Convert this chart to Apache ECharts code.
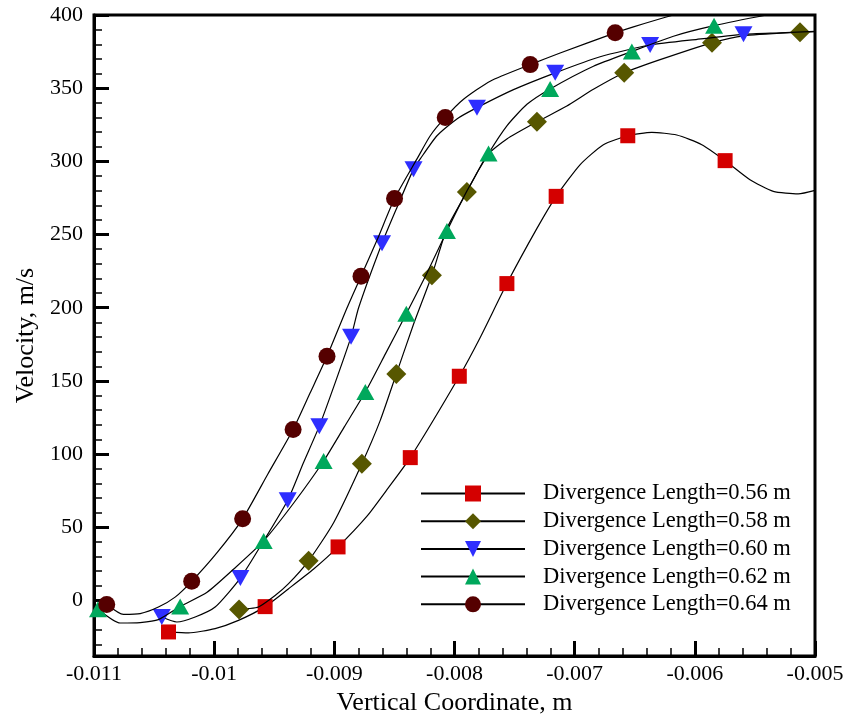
<!DOCTYPE html>
<html>
<head>
<meta charset="utf-8">
<script src="https://cdn.jsdelivr.net/npm/echarts@6/dist/echarts.min.js"></script>
<style>html,body{margin:0;padding:0;background:#fff;}#chart{width:851px;height:721px;}</style>
</head>
<body>
<div id="chart"></div>
<script>
// ---- data ----
const seriesNames = ['Divergence Length=0.56 m','Divergence Length=0.58 m','Divergence Length=0.60 m','Divergence Length=0.62 m','Divergence Length=0.64 m'];

const curve056 = [[-0.010380,-21.5],[-0.010214,-22.2],[-0.009992,-19.2],[-0.009798,-13.6],[-0.009576,-4.2],[-0.009383,7.9],[-0.009172,21.5],[-0.008969,36.6],[-0.008728,57.6],[-0.008562,75.7],[-0.008368,97.6],[-0.007960,153.2],[-0.007786,179.7],[-0.007564,216.5],[-0.007314,254.2],[-0.007154,276.1],[-0.006954,297.8],[-0.006761,311.4],[-0.006558,317.5],[-0.006358,319.8],[-0.006150,318.0],[-0.005942,311.4],[-0.005748,300.5],[-0.005541,287.5],[-0.005347,279.5],[-0.005139,277.8],[-0.005000,280.2]];
const marks056 = [[-0.010380,-21.5],[-0.009576,-4.2],[-0.008969,36.6],[-0.008368,97.6],[-0.007960,153.2],[-0.007564,216.5],[-0.007154,276.1],[-0.006558,317.5],[-0.005748,300.5]];

const curve058 = [[-0.009793,-6.1],[-0.009715,-5.6],[-0.009632,-4.5],[-0.009493,3.4],[-0.009383,11.3],[-0.009214,27.1],[-0.009006,53.1],[-0.008771,93.4],[-0.008617,123.2],[-0.008484,154.8],[-0.008341,188.7],[-0.008188,222.2],[-0.008063,254.2],[-0.007897,279.1],[-0.007730,304],[-0.007564,315.3],[-0.007314,327],[-0.007065,337.8],[-0.006844,349.2],[-0.006588,360.5],[-0.006289,369.5],[-0.005857,381],[-0.005596,385.8],[-0.005125,388.3],[-0.005000,388.7]];
const marks058 = [[-0.009793,-6.1],[-0.009214,27.1],[-0.008771,93.4],[-0.008484,154.8],[-0.008188,222.2],[-0.007897,279.1],[-0.007314,327],[-0.006588,360.5],[-0.005857,381],[-0.005125,388.3]];

const curve060 = [[-0.010436,-11.3],[-0.010311,-14.7],[-0.010158,-11.3],[-0.009992,-4.5],[-0.009782,15.3],[-0.009588,40.7],[-0.009388,68.5],[-0.009258,93.9],[-0.009125,119.1],[-0.008992,149],[-0.008861,180.1],[-0.008798,200],[-0.008603,244.1],[-0.008476,269],[-0.008341,294.7],[-0.008285,301.7],[-0.008146,317.5],[-0.007980,329],[-0.007813,336.7],[-0.007509,349],[-0.007162,360.5],[-0.006788,371.5],[-0.006372,379.5],[-0.005981,383.4],[-0.005595,386.8],[-0.005291,387.8],[-0.005000,388.8]];
const marks060 = [[-0.010436,-11.3],[-0.009782,15.3],[-0.009388,68.5],[-0.009125,119.1],[-0.008861,180.1],[-0.008603,244.1],[-0.008341,294.7],[-0.007813,336.7],[-0.007162,360.5],[-0.006372,379.5],[-0.005595,386.8]];

const curve062 = [[-0.010967,-6.0],[-0.010782,-15.4],[-0.010616,-15.1],[-0.010464,-13.1],[-0.010283,-4.1],[-0.010059,5.6],[-0.009837,21.5],[-0.009588,40.7],[-0.009338,66.6],[-0.009089,95.3],[-0.008917,118.6],[-0.008742,142.4],[-0.008576,168.3],[-0.008401,195.9],[-0.008229,223.7],[-0.008063,252.5],[-0.007894,280.2],[-0.007717,305.4],[-0.007564,324.3],[-0.007397,339],[-0.007204,349.5],[-0.006844,365],[-0.006524,375.1],[-0.006178,385.5],[-0.005840,392.7],[-0.005402,400],[-0.005000,406]];
const marks062 = [[-0.010967,-6.0],[-0.010283,-4.1],[-0.009588,40.7],[-0.009089,95.3],[-0.008742,142.4],[-0.008401,195.9],[-0.008063,252.5],[-0.007717,305.4],[-0.007204,349.5],[-0.006524,375.1],[-0.005840,392.7]];

const curve064 = [[-0.010894,-2.7],[-0.010755,-9.5],[-0.010616,-9.0],[-0.010464,-4.5],[-0.010325,2.3],[-0.010187,13.1],[-0.009976,32.7],[-0.009763,55.8],[-0.009553,86.4],[-0.009343,116.8],[-0.009202,141.7],[-0.009061,166.8],[-0.008894,200],[-0.008778,221.5],[-0.008638,247.5],[-0.008499,274.6],[-0.008312,301.7],[-0.008202,317.5],[-0.008077,330],[-0.007925,342.4],[-0.007703,354.8],[-0.007370,366.1],[-0.007121,374],[-0.006663,387.8],[-0.006511,391.9],[-0.006178,400],[-0.005624,412],[-0.005000,422]];
const marks064 = [[-0.010894,-2.7],[-0.010187,13.1],[-0.009763,55.8],[-0.009343,116.8],[-0.009061,166.8],[-0.008778,221.5],[-0.008499,274.6],[-0.008077,330],[-0.007370,366.1],[-0.006663,387.8]];

// ---- build ----
function buildData(curve, marks) {
  const key = p => p[0].toFixed(6) + '_' + p[1];
  const ms = new Set(marks.map(key));
  const all = curve.slice();
  marks.forEach(m => { if (!curve.some(c => key(c) === key(m))) all.push(m); });
  all.sort((a, b) => a[0] - b[0]);
  return all.map(p => ms.has(key(p)) ? { value: p } : { value: p, symbol: 'none' });
}

const FONT = 'Liberation Serif';
const styles = [
  { symbol: 'rect', size: 15, color: '#d40000', rotate: 0 },
  { symbol: 'diamond', size: 20, color: '#575700', rotate: 0 },
  { symbol: 'triangle', size: [18, 16], color: '#2e2eff', rotate: 180 },
  { symbol: 'triangle', size: [18, 16], color: '#00a85c', rotate: 0 },
  { symbol: 'circle', size: 17, color: '#550000', rotate: 0 }
];
const curves = [curve056, curve058, curve060, curve062, curve064];
const marks = [marks056, marks058, marks060, marks062, marks064];

const series = seriesNames.map((name, i) => ({
  type: 'line',
  name: name,
  data: buildData(curves[i], marks[i]),
  symbol: styles[i].symbol,
  symbolSize: styles[i].size,
  symbolRotate: styles[i].rotate,
  showSymbol: true,
  showAllSymbol: true,
  smooth: 0.2,
  clip: true,
  itemStyle: { color: styles[i].color },
  lineStyle: { color: '#000', width: 1.2 },
  emphasis: { disabled: true },
  z: 2 + i
}));

const chart = echarts.init(document.getElementById('chart'), null, { renderer: 'canvas' });
chart.setOption({
  animation: false,
  backgroundColor: '#fff',
  grid: { left: 94, top: 15, width: 721, height: 646, show: true, borderColor: '#000', borderWidth: 3, backgroundColor: 'transparent' },
  legend: {
    orient: 'vertical', left: 420, top: 482, padding: 0,
    itemWidth: 104, itemHeight: 20, itemGap: 4.7,
    textStyle: { fontFamily: FONT, fontSize: 22.5, color: '#000', padding: [0, 0, 0, 13] },
    data: seriesNames
  },
  xAxis: {
    type: 'value', min: -0.011, max: -0.005, interval: 0.001,
    axisLine: { show: true, onZero: false, lineStyle: { color: '#000', width: 3 } },
    axisTick: { show: true, inside: true, length: 15, lineStyle: { color: '#000', width: 3 } },
    minorTick: { show: true, splitNumber: 5, length: 8, lineStyle: { color: '#000', width: 1.5 } },
    splitLine: { show: false },
    axisLabel: { color: '#000', fontFamily: FONT, fontSize: 22, margin: 7 },
    name: 'Vertical Coordinate, m', nameLocation: 'middle', nameGap: 25,
    nameTextStyle: { color: '#000', fontFamily: FONT, fontSize: 26 }
  },
  yAxis: {
    type: 'value', min: -38, max: 400, splitNumber: 9,
    axisLine: { show: true, onZero: false, lineStyle: { color: '#000', width: 3 } },
    axisTick: { show: true, inside: true, length: 15, lineStyle: { color: '#000', width: 3 } },
    minorTick: { show: true, splitNumber: 5, length: 8, lineStyle: { color: '#000', width: 1.5 } },
    splitLine: { show: false },
    axisLabel: { color: '#000', fontFamily: FONT, fontSize: 22, margin: 11, showMinLabel: false },
    name: 'Velocity, m/s', nameLocation: 'middle', nameGap: 55, nameRotate: 90,
    nameTextStyle: { color: '#000', fontFamily: FONT, fontSize: 26 }
  },
  series: series
});
</script>
</body>
</html>
